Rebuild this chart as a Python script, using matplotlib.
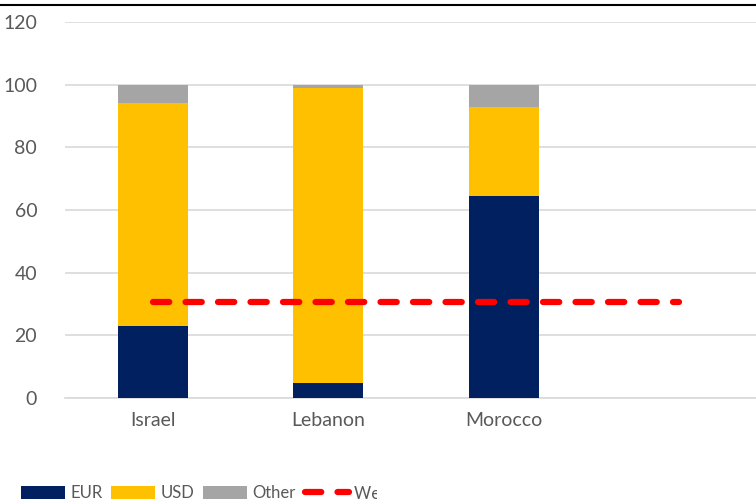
import matplotlib.pyplot as plt
import numpy as np
from matplotlib.transforms import Bbox

# data
countries = ["Israel", "Lebanon", "Morocco", ""]
eur = [23.0, 4.7, 64.5]
usd = [71.0, 94.3, 28.5]
other = [6.0, 1.0, 7.0]
weighted = [30.5, 30.5, 30.5, 30.5]

plt.rcParams["font.family"] = ["Lato", "DejaVu Sans"]

fig = plt.figure(figsize=(7.56, 5), dpi=100)
# axes run past the right edge, like the cropped original
ax = fig.add_axes([65 / 756, 102 / 500, 702 / 756, 376 / 500])

x = np.arange(3)
w = 0.4
b1 = ax.bar(x, eur, w, color="#002060", label="EUR", zorder=3)
b2 = ax.bar(x, usd, w, bottom=eur, color="#FFC000", label="USD", zorder=3)
bottom2 = np.array(eur) + np.array(usd)
b3 = ax.bar(x, other, w, bottom=bottom2, color="#A5A5A5", label="Other", zorder=3)
ln, = ax.plot(np.arange(4), weighted, color="#FF0000", lw=4.5, ls=(0, (2.6, 2.6)),
              dash_capstyle="round", label="Weighted average", zorder=4)

ax.set_xlim(-0.5, 3.5)
ax.set_ylim(0, 120)
ax.set_yticks(range(0, 121, 20))
ax.set_xticks(range(4))
ax.set_xticklabels(countries)
ax.yaxis.grid(True, color="#D9D9D9", lw=1.2, zorder=0)
for s in ax.spines.values():
    s.set_visible(False)
ax.spines["bottom"].set_visible(True)
ax.spines["bottom"].set_color("#D9D9D9")
ax.spines["bottom"].set_linewidth(1.2)
ax.tick_params(length=0, labelsize=14, colors="#595959", pad=10)
ax.tick_params(axis="y", pad=20)

# frame line at top of the crop
fig.add_artist(plt.Line2D([0, 1], [0.99, 0.99], color="black", lw=1.5,
                          transform=fig.transFigure))

leg = fig.legend([b1, b2, b3, ln], ["EUR", "USD", "Other", "Weighted average"],
                 loc="lower left", bbox_to_anchor=(0.008, -0.033), ncol=4,
                 frameon=False, fontsize=12, labelcolor="#595959",
                 handlelength=2.64, handleheight=0.8, columnspacing=0.55,
                 handletextpad=0.3)

# the original legend is cut off after "Weig"
for t in leg.get_texts():
    t.set_clip_box(Bbox([[0, 0], [377, 500]]))
    t.set_clip_on(True)

fig.savefig("out.png", dpi=100)
